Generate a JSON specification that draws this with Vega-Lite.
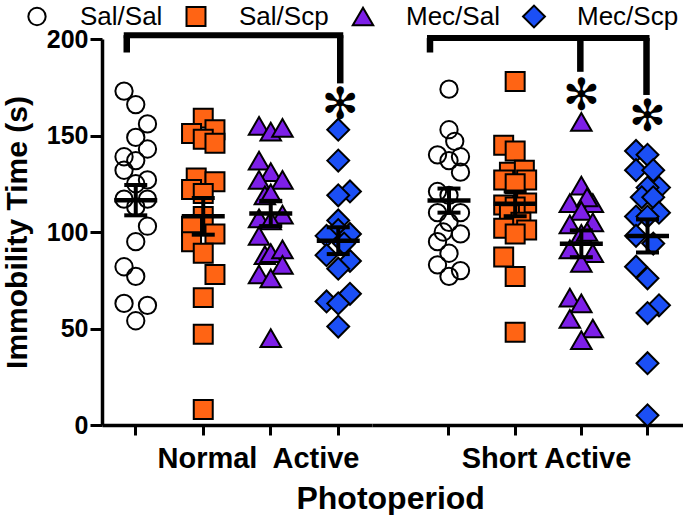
{
  "$schema": "https://vega.github.io/schema/vega-lite/v6.json",
  "padding": {"left": 2, "top": 3, "right": 0, "bottom": 0},
  "bounds": "flush",
  "spacing": 0,
  "title": {"text": "Photoperiod", "orient": "bottom", "anchor": "middle", "fontSize": 32, "fontWeight": "bold", "font": "Liberation Sans", "color": "black", "offset": 10, "dx": 48},
  "resolve": {"scale": {"x": "independent", "xOffset": "independent", "y": "independent"}},
  "datasets": {
    "pts": [
      {"photo": "Normal", "treat": "Sal/Sal", "t": 173, "j": -1},
      {"photo": "Normal", "treat": "Sal/Sal", "t": 166, "j": 0},
      {"photo": "Normal", "treat": "Sal/Sal", "t": 156, "j": 1},
      {"photo": "Normal", "treat": "Sal/Sal", "t": 149, "j": 0},
      {"photo": "Normal", "treat": "Sal/Sal", "t": 143, "j": 1},
      {"photo": "Normal", "treat": "Sal/Sal", "t": 139, "j": -1},
      {"photo": "Normal", "treat": "Sal/Sal", "t": 137, "j": 0},
      {"photo": "Normal", "treat": "Sal/Sal", "t": 132, "j": -1},
      {"photo": "Normal", "treat": "Sal/Sal", "t": 127, "j": 1},
      {"photo": "Normal", "treat": "Sal/Sal", "t": 125, "j": 0},
      {"photo": "Normal", "treat": "Sal/Sal", "t": 117, "j": -1},
      {"photo": "Normal", "treat": "Sal/Sal", "t": 117, "j": 1},
      {"photo": "Normal", "treat": "Sal/Sal", "t": 113, "j": 0},
      {"photo": "Normal", "treat": "Sal/Sal", "t": 103, "j": 1},
      {"photo": "Normal", "treat": "Sal/Sal", "t": 95, "j": 0},
      {"photo": "Normal", "treat": "Sal/Sal", "t": 82, "j": -1},
      {"photo": "Normal", "treat": "Sal/Sal", "t": 77, "j": 0},
      {"photo": "Normal", "treat": "Sal/Sal", "t": 63, "j": -1},
      {"photo": "Normal", "treat": "Sal/Sal", "t": 62, "j": 1},
      {"photo": "Normal", "treat": "Sal/Sal", "t": 54, "j": 0},
      {"photo": "Normal", "treat": "Sal/Scp", "t": 159, "j": 0},
      {"photo": "Normal", "treat": "Sal/Scp", "t": 153, "j": 1},
      {"photo": "Normal", "treat": "Sal/Scp", "t": 151, "j": -1},
      {"photo": "Normal", "treat": "Sal/Scp", "t": 148, "j": 0},
      {"photo": "Normal", "treat": "Sal/Scp", "t": 146, "j": 1},
      {"photo": "Normal", "treat": "Sal/Scp", "t": 128, "j": -0.6},
      {"photo": "Normal", "treat": "Sal/Scp", "t": 126, "j": 1},
      {"photo": "Normal", "treat": "Sal/Scp", "t": 122, "j": -1},
      {"photo": "Normal", "treat": "Sal/Scp", "t": 120, "j": 0},
      {"photo": "Normal", "treat": "Sal/Scp", "t": 108, "j": 0},
      {"photo": "Normal", "treat": "Sal/Scp", "t": 103, "j": -1},
      {"photo": "Normal", "treat": "Sal/Scp", "t": 99, "j": 1},
      {"photo": "Normal", "treat": "Sal/Scp", "t": 95, "j": -1},
      {"photo": "Normal", "treat": "Sal/Scp", "t": 89, "j": 0},
      {"photo": "Normal", "treat": "Sal/Scp", "t": 78, "j": 1},
      {"photo": "Normal", "treat": "Sal/Scp", "t": 66, "j": 0},
      {"photo": "Normal", "treat": "Sal/Scp", "t": 47, "j": 0},
      {"photo": "Normal", "treat": "Sal/Scp", "t": 8, "j": 0},
      {"photo": "Normal", "treat": "Mec/Sal", "t": 155, "j": -1},
      {"photo": "Normal", "treat": "Mec/Sal", "t": 152, "j": 0},
      {"photo": "Normal", "treat": "Mec/Sal", "t": 154, "j": 1},
      {"photo": "Normal", "treat": "Mec/Sal", "t": 137, "j": -1},
      {"photo": "Normal", "treat": "Mec/Sal", "t": 131, "j": 0},
      {"photo": "Normal", "treat": "Mec/Sal", "t": 127, "j": -1},
      {"photo": "Normal", "treat": "Mec/Sal", "t": 127, "j": 1},
      {"photo": "Normal", "treat": "Mec/Sal", "t": 119, "j": -0.5},
      {"photo": "Normal", "treat": "Mec/Sal", "t": 120, "j": 0},
      {"photo": "Normal", "treat": "Mec/Sal", "t": 109, "j": 1},
      {"photo": "Normal", "treat": "Mec/Sal", "t": 107, "j": -1},
      {"photo": "Normal", "treat": "Mec/Sal", "t": 106, "j": 0},
      {"photo": "Normal", "treat": "Mec/Sal", "t": 98, "j": -1},
      {"photo": "Normal", "treat": "Mec/Sal", "t": 88, "j": -0.5},
      {"photo": "Normal", "treat": "Mec/Sal", "t": 89, "j": 0},
      {"photo": "Normal", "treat": "Mec/Sal", "t": 91, "j": 1},
      {"photo": "Normal", "treat": "Mec/Sal", "t": 83, "j": 1},
      {"photo": "Normal", "treat": "Mec/Sal", "t": 78, "j": -1},
      {"photo": "Normal", "treat": "Mec/Sal", "t": 76, "j": 0},
      {"photo": "Normal", "treat": "Mec/Sal", "t": 45, "j": 0},
      {"photo": "Normal", "treat": "Mec/Scp", "t": 153, "j": 0},
      {"photo": "Normal", "treat": "Mec/Scp", "t": 137, "j": 0},
      {"photo": "Normal", "treat": "Mec/Scp", "t": 121, "j": 1},
      {"photo": "Normal", "treat": "Mec/Scp", "t": 119, "j": 0},
      {"photo": "Normal", "treat": "Mec/Scp", "t": 106, "j": 0},
      {"photo": "Normal", "treat": "Mec/Scp", "t": 101, "j": 0},
      {"photo": "Normal", "treat": "Mec/Scp", "t": 99, "j": 1},
      {"photo": "Normal", "treat": "Mec/Scp", "t": 98, "j": -1},
      {"photo": "Normal", "treat": "Mec/Scp", "t": 94, "j": 0.5},
      {"photo": "Normal", "treat": "Mec/Scp", "t": 88, "j": -1},
      {"photo": "Normal", "treat": "Mec/Scp", "t": 85, "j": 1},
      {"photo": "Normal", "treat": "Mec/Scp", "t": 81, "j": 0},
      {"photo": "Normal", "treat": "Mec/Scp", "t": 68, "j": 1},
      {"photo": "Normal", "treat": "Mec/Scp", "t": 64, "j": -1},
      {"photo": "Normal", "treat": "Mec/Scp", "t": 63, "j": 0},
      {"photo": "Normal", "treat": "Mec/Scp", "t": 51, "j": 0},
      {"photo": "Short", "treat": "Sal/Sal", "t": 174, "j": 0},
      {"photo": "Short", "treat": "Sal/Sal", "t": 153, "j": 0},
      {"photo": "Short", "treat": "Sal/Sal", "t": 147, "j": 0.5},
      {"photo": "Short", "treat": "Sal/Sal", "t": 140, "j": -1},
      {"photo": "Short", "treat": "Sal/Sal", "t": 137, "j": 0},
      {"photo": "Short", "treat": "Sal/Sal", "t": 139, "j": 1},
      {"photo": "Short", "treat": "Sal/Sal", "t": 131, "j": 1},
      {"photo": "Short", "treat": "Sal/Sal", "t": 121, "j": -1},
      {"photo": "Short", "treat": "Sal/Sal", "t": 119, "j": 0},
      {"photo": "Short", "treat": "Sal/Sal", "t": 110, "j": -1},
      {"photo": "Short", "treat": "Sal/Sal", "t": 110, "j": 1},
      {"photo": "Short", "treat": "Sal/Sal", "t": 105, "j": 0},
      {"photo": "Short", "treat": "Sal/Sal", "t": 100, "j": -0.5},
      {"photo": "Short", "treat": "Sal/Sal", "t": 99, "j": 1},
      {"photo": "Short", "treat": "Sal/Sal", "t": 95, "j": -1},
      {"photo": "Short", "treat": "Sal/Sal", "t": 89, "j": 0},
      {"photo": "Short", "treat": "Sal/Sal", "t": 83, "j": -1},
      {"photo": "Short", "treat": "Sal/Sal", "t": 80, "j": 1},
      {"photo": "Short", "treat": "Sal/Sal", "t": 77, "j": 0},
      {"photo": "Short", "treat": "Sal/Scp", "t": 178, "j": 0},
      {"photo": "Short", "treat": "Sal/Scp", "t": 145, "j": -1},
      {"photo": "Short", "treat": "Sal/Scp", "t": 142, "j": 0},
      {"photo": "Short", "treat": "Sal/Scp", "t": 131, "j": -0.5},
      {"photo": "Short", "treat": "Sal/Scp", "t": 132, "j": 0.8},
      {"photo": "Short", "treat": "Sal/Scp", "t": 127, "j": -1},
      {"photo": "Short", "treat": "Sal/Scp", "t": 127, "j": 1},
      {"photo": "Short", "treat": "Sal/Scp", "t": 125, "j": 0},
      {"photo": "Short", "treat": "Sal/Scp", "t": 115, "j": 1},
      {"photo": "Short", "treat": "Sal/Scp", "t": 114, "j": -1},
      {"photo": "Short", "treat": "Sal/Scp", "t": 113, "j": 0},
      {"photo": "Short", "treat": "Sal/Scp", "t": 109, "j": -0.5},
      {"photo": "Short", "treat": "Sal/Scp", "t": 105, "j": 0.5},
      {"photo": "Short", "treat": "Sal/Scp", "t": 102, "j": -1},
      {"photo": "Short", "treat": "Sal/Scp", "t": 101, "j": 1},
      {"photo": "Short", "treat": "Sal/Scp", "t": 99, "j": 0},
      {"photo": "Short", "treat": "Sal/Scp", "t": 87, "j": -1},
      {"photo": "Short", "treat": "Sal/Scp", "t": 77, "j": 0},
      {"photo": "Short", "treat": "Sal/Scp", "t": 48, "j": 0},
      {"photo": "Short", "treat": "Mec/Sal", "t": 157, "j": 0},
      {"photo": "Short", "treat": "Mec/Sal", "t": 124, "j": 0},
      {"photo": "Short", "treat": "Mec/Sal", "t": 115, "j": -1},
      {"photo": "Short", "treat": "Mec/Sal", "t": 115, "j": 1},
      {"photo": "Short", "treat": "Mec/Sal", "t": 118, "j": 0.5},
      {"photo": "Short", "treat": "Mec/Sal", "t": 111, "j": 0},
      {"photo": "Short", "treat": "Mec/Sal", "t": 104, "j": -1},
      {"photo": "Short", "treat": "Mec/Sal", "t": 105, "j": 1},
      {"photo": "Short", "treat": "Mec/Sal", "t": 99, "j": 0},
      {"photo": "Short", "treat": "Mec/Sal", "t": 100, "j": 0.5},
      {"photo": "Short", "treat": "Mec/Sal", "t": 91, "j": -1},
      {"photo": "Short", "treat": "Mec/Sal", "t": 89, "j": 1},
      {"photo": "Short", "treat": "Mec/Sal", "t": 84, "j": 0},
      {"photo": "Short", "treat": "Mec/Sal", "t": 66, "j": -1},
      {"photo": "Short", "treat": "Mec/Sal", "t": 63, "j": 0},
      {"photo": "Short", "treat": "Mec/Sal", "t": 55, "j": -1},
      {"photo": "Short", "treat": "Mec/Sal", "t": 50, "j": 1},
      {"photo": "Short", "treat": "Mec/Sal", "t": 44, "j": 0},
      {"photo": "Short", "treat": "Mec/Scp", "t": 142, "j": -1},
      {"photo": "Short", "treat": "Mec/Scp", "t": 140, "j": 0},
      {"photo": "Short", "treat": "Mec/Scp", "t": 132, "j": -1},
      {"photo": "Short", "treat": "Mec/Scp", "t": 132, "j": 0.5},
      {"photo": "Short", "treat": "Mec/Scp", "t": 123, "j": 1},
      {"photo": "Short", "treat": "Mec/Scp", "t": 123, "j": 0},
      {"photo": "Short", "treat": "Mec/Scp", "t": 118, "j": -0.5},
      {"photo": "Short", "treat": "Mec/Scp", "t": 118, "j": 0.5},
      {"photo": "Short", "treat": "Mec/Scp", "t": 110, "j": 1},
      {"photo": "Short", "treat": "Mec/Scp", "t": 108, "j": -1},
      {"photo": "Short", "treat": "Mec/Scp", "t": 108, "j": 0},
      {"photo": "Short", "treat": "Mec/Scp", "t": 98, "j": -1},
      {"photo": "Short", "treat": "Mec/Scp", "t": 94, "j": 0.5},
      {"photo": "Short", "treat": "Mec/Scp", "t": 82, "j": -1},
      {"photo": "Short", "treat": "Mec/Scp", "t": 76, "j": 0},
      {"photo": "Short", "treat": "Mec/Scp", "t": 62, "j": 1},
      {"photo": "Short", "treat": "Mec/Scp", "t": 58, "j": 0},
      {"photo": "Short", "treat": "Mec/Scp", "t": 32, "j": 0},
      {"photo": "Short", "treat": "Mec/Scp", "t": 5, "j": 0}
    ],
    "bars": [
      {"photo": "Normal", "treat": "Sal/Sal", "treat2": "Mec/Scp", "t": 202},
      {"photo": "Short", "treat": "Sal/Sal", "treat2": "Mec/Scp", "t": 200.5}
    ],
    "legs": [
      {"photo": "Normal", "treat": "Sal/Sal", "t": 202, "t2": 193},
      {"photo": "Normal", "treat": "Mec/Scp", "t": 202, "t2": 177},
      {"photo": "Short", "treat": "Sal/Sal", "t": 200.5, "t2": 193},
      {"photo": "Short", "treat": "Mec/Sal", "t": 200.5, "t2": 183},
      {"photo": "Short", "treat": "Mec/Scp", "t": 200.5, "t2": 171}
    ],
    "stars": [
      {"photo": "Normal", "treat": "Mec/Scp", "t": 165.5},
      {"photo": "Short", "treat": "Mec/Sal", "t": 170},
      {"photo": "Short", "treat": "Mec/Scp", "t": 159}
    ]
  },
  "hconcat": [
    {
      "width": 270,
      "height": 386,
      "layer": [
        {
          "data": {"name": "pts"},
          "transform": [{"filter": {"field": "photo", "equal": "Normal"}}],
          "mark": {"type": "point", "filled": true, "stroke": "black", "strokeWidth": 2, "opacity": 1},
          "encoding": {
            "x": {"field": "treat", "type": "nominal", "title": "Normal\u00a0 Active", "scale": {"domain": ["Sal/Sal", "Sal/Scp", "Mec/Sal", "Mec/Scp"], "paddingInner": 0, "paddingOuter": 0},
                  "axis": {"labels": false, "tickSize": 10, "titleFontSize": 29, "titlePadding": 8, "titleX": 156}},
            "xOffset": {"field": "j", "type": "quantitative", "scale": {"domain": [-2.88, 2.88], "nice": false, "zero": false}},
            "y": {"field": "t", "type": "quantitative", "title": "Immobility Time (s)", "scale": {"domain": [0, 200], "nice": false},
                  "axis": {"values": [0, 50, 100, 150, 200], "tickSize": 12, "labelFontSize": 25, "labelPadding": 2, "titleFontSize": 30, "titlePadding": 14}},
            "shape": {"field": "treat", "type": "nominal", "scale": {"domain": ["Sal/Sal", "Sal/Scp", "Mec/Sal", "Mec/Scp"], "range": ["circle", "square", "triangle-up", "diamond"]}},
            "color": {"field": "treat", "type": "nominal", "scale": {"domain": ["Sal/Sal", "Sal/Scp", "Mec/Sal", "Mec/Scp"], "range": ["transparent", "#FF6414", "#7D1FE8", "#1B4FF5"]},
                      "legend": {"title": null, "orient": "none", "legendX": -78, "legendY": -35.5, "direction": "horizontal", "columns": 4, "gridAlign": "none", "labelOffset": 30, "columnPadding": 19, "symbolSize": 330, "symbolStrokeWidth": 2, "symbolStrokeColor": "black", "labelFontSize": 26, "padding": 0}},
            "size": {"field": "treat", "type": "ordinal", "legend": null, "scale": {"type": "point", "domain": ["Sal/Sal", "Sal/Scp", "Mec/Sal", "Mec/Scp"], "range": [300, 480], "padding": 0}}
          }
        },
        {
          "data": {"name": "pts"},
          "transform": [{"filter": {"field": "photo", "equal": "Normal"}}],
          "mark": {"type": "errorbar", "extent": "stderr", "color": "black", "opacity": 1, "thickness": 4, "ticks": {"size": 23, "thickness": 4, "color": "black", "opacity": 1}, "rule": {"strokeWidth": 4, "color": "black", "opacity": 1}},
          "encoding": {
            "x": {"field": "treat", "type": "nominal", "title": "Normal\u00a0 Active"},
            "y": {"field": "t", "type": "quantitative", "title": "Immobility Time (s)"}
          }
        },
        {
          "data": {"name": "pts"},
          "transform": [{"filter": {"field": "photo", "equal": "Normal"}}],
          "mark": {"type": "tick", "color": "black", "thickness": 4.5, "size": 43, "opacity": 1},
          "encoding": {
            "x": {"field": "treat", "type": "nominal", "title": "Normal\u00a0 Active"},
            "y": {"aggregate": "mean", "field": "t", "type": "quantitative", "title": "Immobility Time (s)"}
          }
        },
        {
          "data": {"name": "bars"},
          "transform": [{"filter": {"field": "photo", "equal": "Normal"}}],
          "mark": {"type": "rule", "color": "black", "strokeWidth": 6, "strokeCap": "square", "xOffset": -9, "x2Offset": 2},
          "encoding": {
            "x": {"field": "treat", "type": "nominal", "title": "Normal\u00a0 Active"},
            "x2": {"field": "treat2"},
            "y": {"field": "t", "type": "quantitative", "title": "Immobility Time (s)"}
          }
        },
        {
          "data": {"name": "legs"},
          "transform": [{"filter": {"field": "photo", "equal": "Normal"}}, {"filter": {"field": "treat", "equal": "Sal/Sal"}}],
          "mark": {"type": "rule", "color": "black", "strokeWidth": 6.5, "xOffset": -9},
          "encoding": {
            "x": {"field": "treat", "type": "nominal", "title": "Normal\u00a0 Active"},
            "y": {"field": "t", "type": "quantitative", "title": "Immobility Time (s)"},
            "y2": {"field": "t2"}
          }
        },
        {
          "data": {"name": "legs"},
          "transform": [{"filter": {"field": "photo", "equal": "Normal"}}, {"filter": "datum.treat !== 'Sal/Sal'"}],
          "mark": {"type": "rule", "color": "black", "strokeWidth": 6.5, "xOffset": 2},
          "encoding": {
            "x": {"field": "treat", "type": "nominal", "title": "Normal\u00a0 Active"},
            "y": {"field": "t", "type": "quantitative", "title": "Immobility Time (s)"},
            "y2": {"field": "t2"}
          }
        },
        {
          "data": {"name": "stars"},
          "transform": [{"filter": {"field": "photo", "equal": "Normal"}}],
          "mark": {"type": "text", "text": "\u273b", "font": "DejaVu Sans", "fontSize": 44, "color": "black", "baseline": "middle", "align": "center", "dx": 2},
          "encoding": {
            "x": {"field": "treat", "type": "nominal", "title": "Normal\u00a0 Active"},
            "y": {"field": "t", "type": "quantitative", "title": "Immobility Time (s)"}
          }
        }
      ]
    },
    {
      "width": 311,
      "height": 386,
      "layer": [
        {
          "data": {"name": "pts"},
          "transform": [{"filter": {"field": "photo", "equal": "Short"}}],
          "mark": {"type": "point", "filled": true, "stroke": "black", "strokeWidth": 2, "opacity": 1},
          "encoding": {
            "x": {"field": "treat", "type": "nominal", "title": "Short Active", "scale": {"domain": ["Sal/Sal", "Sal/Scp", "Mec/Sal", "Mec/Scp"], "paddingInner": 0, "paddingOuter": 0.35, "align": 0.948},
                  "axis": {"labels": false, "tickSize": 10, "titleFontSize": 29, "titlePadding": 8, "titleX": 174}},
            "xOffset": {"field": "j", "type": "quantitative", "scale": {"domain": [-2.88, 2.88], "nice": false, "zero": false}},
            "y": {"field": "t", "type": "quantitative", "scale": {"domain": [0, 200], "nice": false}, "axis": null},
            "shape": {"field": "treat", "type": "nominal", "scale": {"domain": ["Sal/Sal", "Sal/Scp", "Mec/Sal", "Mec/Scp"], "range": ["circle", "square", "triangle-up", "diamond"]}},
            "color": {"field": "treat", "type": "nominal", "scale": {"domain": ["Sal/Sal", "Sal/Scp", "Mec/Sal", "Mec/Scp"], "range": ["transparent", "#FF6414", "#7D1FE8", "#1B4FF5"]},
                      "legend": {"title": null, "orient": "none", "legendX": -78, "legendY": -35.5, "direction": "horizontal", "columns": 4, "gridAlign": "none", "labelOffset": 30, "columnPadding": 19, "symbolSize": 330, "symbolStrokeWidth": 2, "symbolStrokeColor": "black", "labelFontSize": 26, "padding": 0}},
            "size": {"field": "treat", "type": "ordinal", "legend": null, "scale": {"type": "point", "domain": ["Sal/Sal", "Sal/Scp", "Mec/Sal", "Mec/Scp"], "range": [300, 480], "padding": 0}}
          }
        },
        {
          "data": {"name": "pts"},
          "transform": [{"filter": {"field": "photo", "equal": "Short"}}],
          "mark": {"type": "errorbar", "extent": "stderr", "color": "black", "opacity": 1, "thickness": 4, "ticks": {"size": 23, "thickness": 4, "color": "black", "opacity": 1}, "rule": {"strokeWidth": 4, "color": "black", "opacity": 1}},
          "encoding": {
            "x": {"field": "treat", "type": "nominal", "title": "Short Active"},
            "y": {"field": "t", "type": "quantitative"}
          }
        },
        {
          "data": {"name": "pts"},
          "transform": [{"filter": {"field": "photo", "equal": "Short"}}],
          "mark": {"type": "tick", "color": "black", "thickness": 4.5, "size": 43, "opacity": 1},
          "encoding": {
            "x": {"field": "treat", "type": "nominal", "title": "Short Active"},
            "y": {"aggregate": "mean", "field": "t", "type": "quantitative"}
          }
        },
        {
          "data": {"name": "bars"},
          "transform": [{"filter": {"field": "photo", "equal": "Short"}}],
          "mark": {"type": "rule", "color": "black", "strokeWidth": 6, "strokeCap": "square", "xOffset": -19, "x2Offset": -1},
          "encoding": {
            "x": {"field": "treat", "type": "nominal", "title": "Short Active"},
            "x2": {"field": "treat2"},
            "y": {"field": "t", "type": "quantitative"}
          }
        },
        {
          "data": {"name": "legs"},
          "transform": [{"filter": {"field": "photo", "equal": "Short"}}, {"filter": {"field": "treat", "equal": "Sal/Sal"}}],
          "mark": {"type": "rule", "color": "black", "strokeWidth": 6.5, "xOffset": -19},
          "encoding": {
            "x": {"field": "treat", "type": "nominal", "title": "Short Active"},
            "y": {"field": "t", "type": "quantitative"},
            "y2": {"field": "t2"}
          }
        },
        {
          "data": {"name": "legs"},
          "transform": [{"filter": {"field": "photo", "equal": "Short"}}, {"filter": "datum.treat !== 'Sal/Sal'"}],
          "mark": {"type": "rule", "color": "black", "strokeWidth": 6.5, "xOffset": -1},
          "encoding": {
            "x": {"field": "treat", "type": "nominal", "title": "Short Active"},
            "y": {"field": "t", "type": "quantitative"},
            "y2": {"field": "t2"}
          }
        },
        {
          "data": {"name": "stars"},
          "transform": [{"filter": {"field": "photo", "equal": "Short"}}],
          "mark": {"type": "text", "text": "\u273b", "font": "DejaVu Sans", "fontSize": 44, "color": "black", "baseline": "middle", "align": "center"},
          "encoding": {
            "x": {"field": "treat", "type": "nominal", "title": "Short Active"},
            "y": {"field": "t", "type": "quantitative"}
          }
        }
      ]
    }
  ],
  "config": {
    "font": "Liberation Sans",
    "view": {"stroke": null},
    "title": {"fontSize": 32, "fontWeight": "bold", "color": "black"},
    "axis": {"domainColor": "black", "tickColor": "black", "domainWidth": 3.5, "tickWidth": 3, "grid": false, "labelColor": "black", "titleColor": "black", "labelFont": "Liberation Sans", "titleFont": "Liberation Sans", "labelFontWeight": "bold", "titleFontWeight": "bold"},
    "legend": {"labelFont": "Liberation Sans", "labelFontSize": 26, "labelColor": "black", "symbolStrokeColor": "black", "symbolStrokeWidth": 2, "labelOffset": 30, "columnPadding": 19, "padding": 0, "symbolSize": 330, "labelLimit": 300}
  }
}
